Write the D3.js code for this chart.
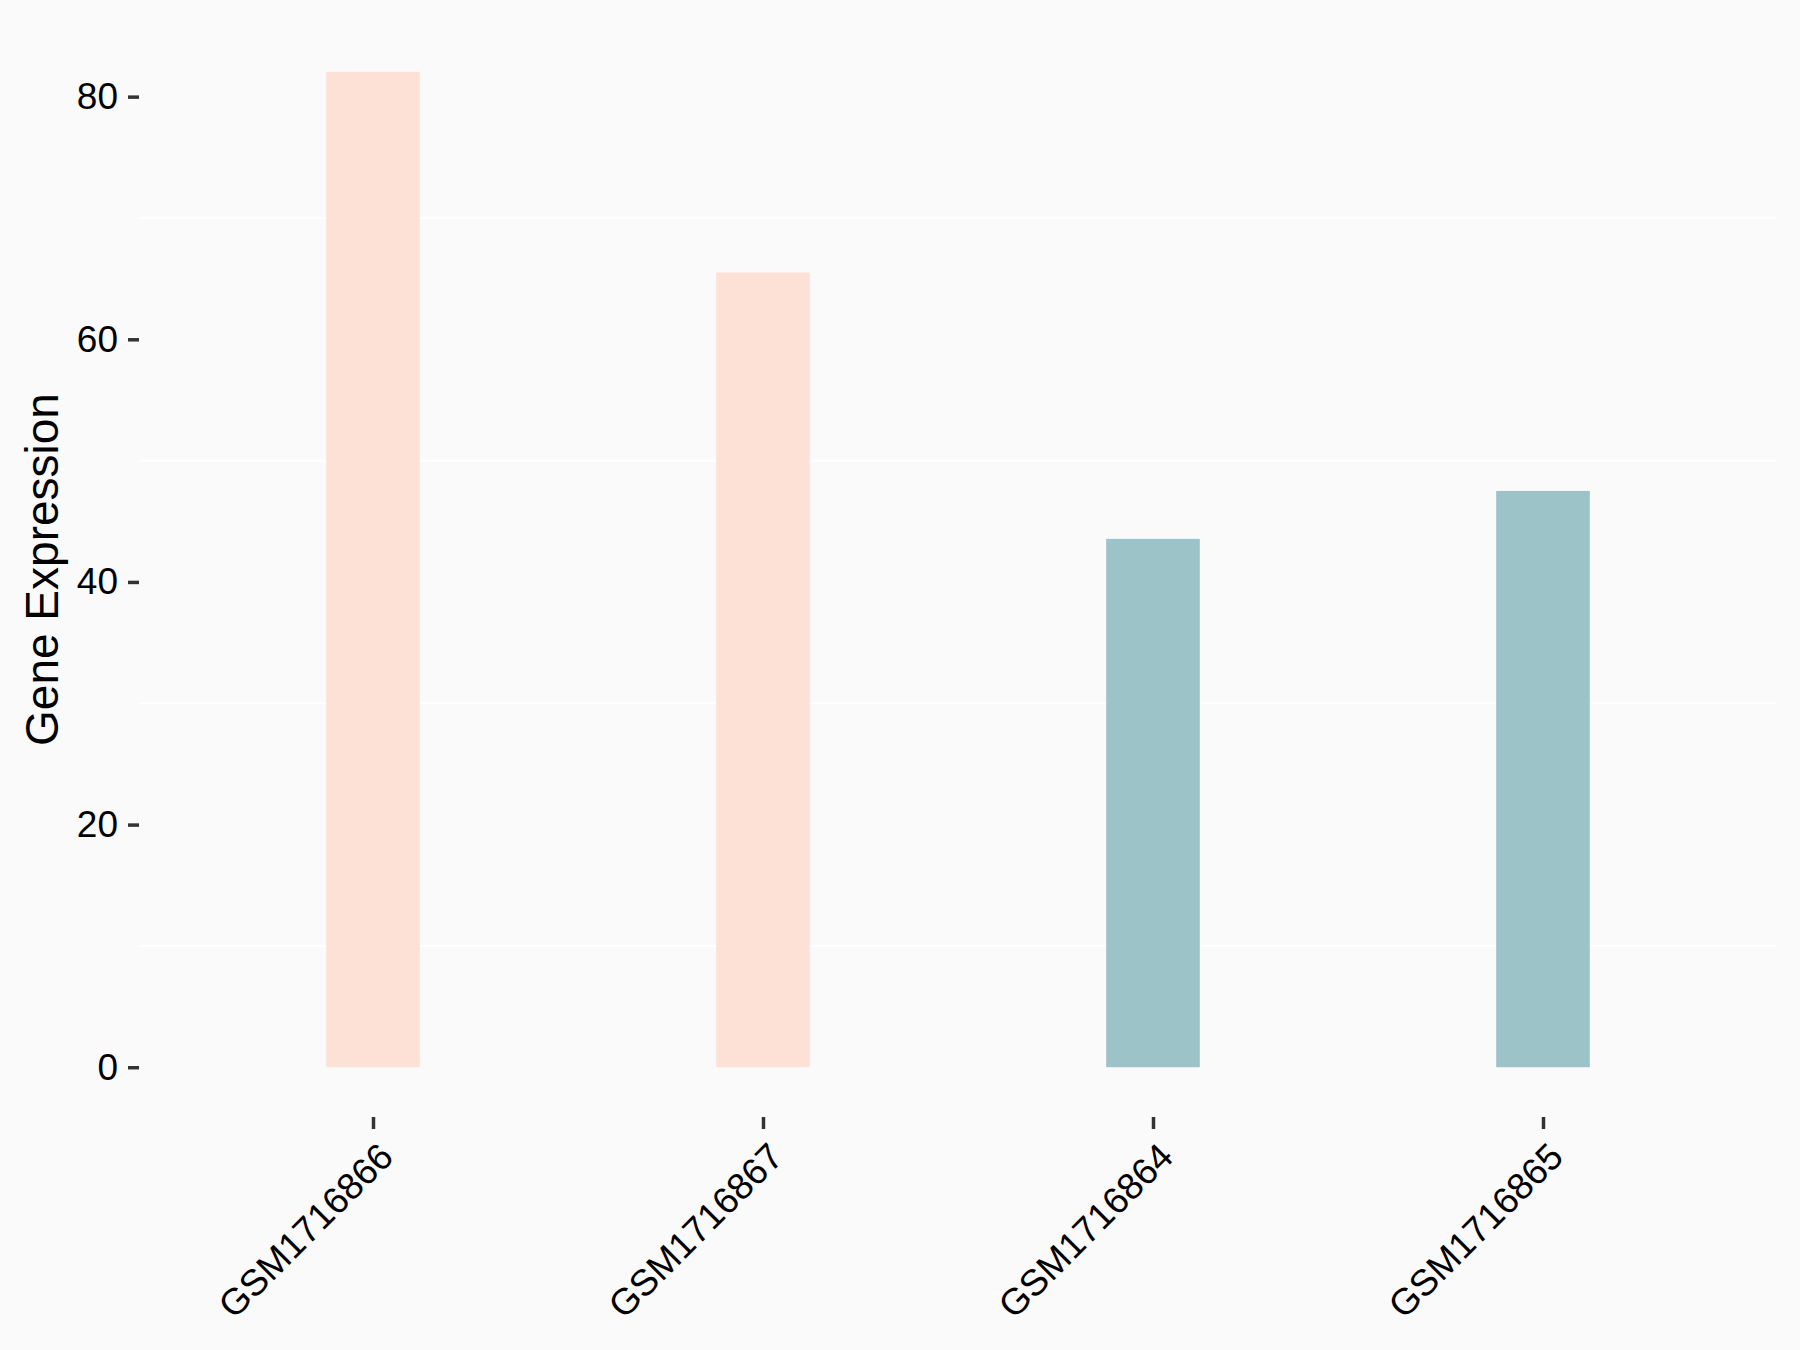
<!DOCTYPE html>
<html>
<head>
<meta charset="utf-8">
<script src="https://cdn.jsdelivr.net/npm/d3@7/dist/d3.min.js"></script>
<style>
  html, body { margin: 0; padding: 0; background: #FAFAFA; }
  svg { display: block; }
</style>
</head>
<body>
<svg id="chart" width="1800" height="1350"></svg>
<script>
const categories = ["GSM1716866", "GSM1716867", "GSM1716864", "GSM1716865"];
const values = [82.05, 65.5, 43.55, 47.5];
const groups = ["A", "A", "B", "B"];
const yTicks = [0, 20, 40, 60, 80];
const yMinor = [10, 30, 50, 70];
const yTitle = "Gene Expression";

const W = 1800, H = 1350;
const panel = { left: 139, right: 1777, top: 22, bottom: 1117 };
const colors = { A: "#FEE1D6", B: "#9CC3C7" };

const svg = d3.select("#chart");
svg.append("rect").attr("width", W).attr("height", H).attr("fill", "#FAFAFA");

const ymax = d3.max(values);
const y = d3.scaleLinear()
  .domain([-0.05 * ymax, ymax * 1.05])
  .range([panel.bottom, panel.top]);

const x = d3.scalePoint()
  .domain(categories)
  .range([panel.left, panel.right])
  .padding(0.6);

const barW = x.step() * 0.24;

// minor gridlines
svg.append("g").selectAll("line").data(yMinor).join("line")
  .attr("x1", panel.left).attr("x2", panel.right)
  .attr("y1", d => y(d)).attr("y2", d => y(d))
  .attr("stroke", "#FFFFFF").attr("stroke-width", 1.6);

// bars
svg.append("g").selectAll("rect").data(categories).join("rect")
  .attr("x", (d) => x(d) - barW / 2)
  .attr("width", barW)
  .attr("y", (d, i) => y(values[i]))
  .attr("height", (d, i) => y(0) - y(values[i]))
  .attr("fill", (d, i) => colors[groups[i]]);

const font = "'Liberation Sans', Arial, sans-serif";

// y axis
const yAxis = d3.axisLeft(y).tickValues(yTicks).tickSize(11).tickPadding(10);
const gy = svg.append("g").attr("transform", `translate(${panel.left},0)`).call(yAxis);
gy.select(".domain").remove();
gy.selectAll(".tick line").attr("stroke", "#333333").attr("stroke-width", 3.5);
gy.selectAll(".tick text").attr("fill", "#000").style("font-family", font).style("font-size", "37px");

// x axis
const xAxis = d3.axisBottom(x).tickSize(12).tickPadding(0);
const gx = svg.append("g").attr("transform", `translate(0,${panel.bottom})`).call(xAxis);
gx.select(".domain").remove();
gx.selectAll(".tick line").attr("stroke", "#333333").attr("stroke-width", 3.5);
gx.selectAll(".tick text")
  .attr("fill", "#000")
  .style("font-family", font).style("font-size", "37px")
  .attr("text-anchor", "end")
  .attr("x", null).attr("y", null).attr("dy", "0.72em")
  .attr("transform", "translate(3,23) rotate(-45)");

// y title
svg.append("text")
  .attr("transform", `translate(42,${(panel.top + panel.bottom) / 2}) rotate(-90)`)
  .attr("text-anchor", "middle")
  .attr("dy", "0.35em")
  .style("font-family", font).style("font-size", "46px")
  .attr("fill", "#000")
  .text(yTitle);
</script>
</body>
</html>
